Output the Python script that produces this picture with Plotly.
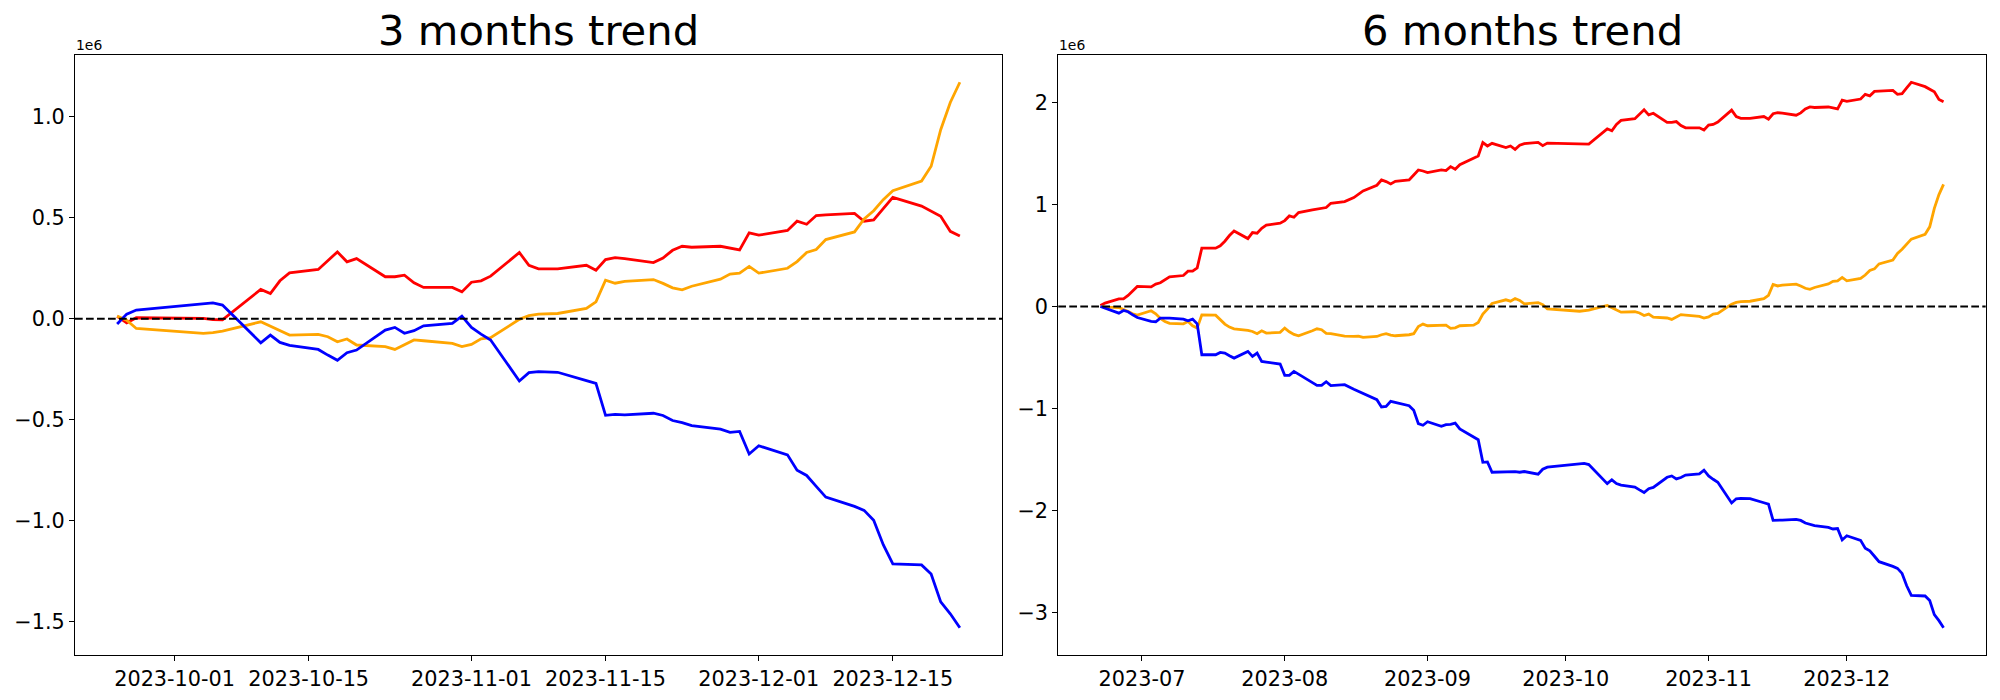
import plotly.graph_objects as go

# ---------------- data (values in millions) ----------------
dates_3m = ["2023-09-25","2023-09-26","2023-09-27","2023-10-04","2023-10-05","2023-10-06",
            "2023-10-10","2023-10-11","2023-10-12","2023-10-13","2023-10-16","2023-10-17",
            "2023-10-18","2023-10-19","2023-10-20","2023-10-23","2023-10-24","2023-10-25",
            "2023-10-26","2023-10-27","2023-10-30","2023-10-31","2023-11-01","2023-11-02",
            "2023-11-03","2023-11-06","2023-11-07","2023-11-08","2023-11-09","2023-11-10",
            "2023-11-13","2023-11-14","2023-11-15","2023-11-16","2023-11-17","2023-11-20",
            "2023-11-21","2023-11-22","2023-11-23","2023-11-24","2023-11-27","2023-11-28",
            "2023-11-29","2023-11-30","2023-12-01","2023-12-04","2023-12-05","2023-12-06",
            "2023-12-07","2023-12-08","2023-12-11","2023-12-12","2023-12-13","2023-12-14",
            "2023-12-15","2023-12-18","2023-12-19","2023-12-20","2023-12-21","2023-12-22"]

red_3m = [0.012, -0.020, 0.005, 0.002, -0.004, -0.005, 0.145, 0.125, 0.188, 0.227,
          0.244, 0.287, 0.331, 0.282, 0.298, 0.208, 0.208, 0.216, 0.178, 0.155,
          0.155, 0.133, 0.181, 0.188, 0.211, 0.328, 0.264, 0.247, 0.247, 0.247,
          0.265, 0.240, 0.293, 0.303, 0.298, 0.278, 0.301, 0.339, 0.359, 0.354,
          0.359, 0.349, 0.341, 0.425, 0.414, 0.437, 0.483, 0.468, 0.511, 0.514,
          0.522, 0.483, 0.489, 0.545, 0.601, 0.558, 0.534, 0.507, 0.433, 0.410]

orange_3m = [0.013, -0.007, -0.048, -0.072, -0.069, -0.061, -0.015, -0.038, -0.059, -0.081,
             -0.077, -0.089, -0.114, -0.100, -0.130, -0.138, -0.152, -0.128, -0.105, -0.109,
             -0.122, -0.138, -0.127, -0.099, -0.094, -0.003, 0.015, 0.023, 0.026, 0.026,
             0.051, 0.084, 0.191, 0.176, 0.185, 0.194, 0.175, 0.153, 0.143, 0.161,
             0.196, 0.221, 0.226, 0.259, 0.226, 0.250, 0.283, 0.328, 0.343, 0.392,
             0.430, 0.494, 0.535, 0.590, 0.634, 0.682, 0.755, 0.936, 1.071, 1.171]

blue_3m = [-0.026, 0.023, 0.043, 0.074, 0.079, 0.068, -0.119, -0.081, -0.117, -0.132,
           -0.152, -0.180, -0.206, -0.168, -0.155, -0.056, -0.043, -0.072, -0.059, -0.035,
           -0.023, 0.013, -0.043, -0.076, -0.105, -0.308, -0.267, -0.262, -0.263, -0.265,
           -0.306, -0.320, -0.478, -0.474, -0.476, -0.468, -0.479, -0.504, -0.514, -0.529,
           -0.547, -0.563, -0.558, -0.670, -0.629, -0.674, -0.750, -0.776, -0.830, -0.883,
           -0.929, -0.949, -0.998, -1.119, -1.214, -1.219, -1.264, -1.402, -1.461, -1.530]

dates_6m_head = ["2023-06-22","2023-06-23","2023-06-26","2023-06-27","2023-06-28","2023-06-29","2023-06-30",
                 "2023-07-03","2023-07-04","2023-07-05","2023-07-06","2023-07-07",
                 "2023-07-10","2023-07-11","2023-07-12","2023-07-13","2023-07-14",
                 "2023-07-17","2023-07-18","2023-07-19","2023-07-20","2023-07-21",
                 "2023-07-24","2023-07-25","2023-07-26","2023-07-27","2023-07-28",
                 "2023-07-31","2023-08-01","2023-08-02","2023-08-03","2023-08-04",
                 "2023-08-07","2023-08-08","2023-08-09","2023-08-10","2023-08-11",
                 "2023-08-14","2023-08-16","2023-08-17","2023-08-18",
                 "2023-08-21","2023-08-22","2023-08-23","2023-08-24","2023-08-25",
                 "2023-08-28","2023-08-29","2023-08-30","2023-08-31","2023-09-01",
                 "2023-09-04","2023-09-05","2023-09-06","2023-09-07","2023-09-08",
                 "2023-09-11","2023-09-12","2023-09-13","2023-09-14","2023-09-15",
                 "2023-09-18","2023-09-19","2023-09-20","2023-09-21","2023-09-22"]
dates_6m = dates_6m_head + dates_3m

red_6m = [0.010, 0.033, 0.075, 0.075, 0.108, 0.157, 0.196,
          0.192, 0.219, 0.232, 0.261, 0.290,
          0.303, 0.346, 0.346, 0.378, 0.571,
          0.571, 0.594, 0.639, 0.695, 0.740,
          0.665, 0.724, 0.718, 0.766, 0.796,
          0.815, 0.841, 0.887, 0.874, 0.920,
          0.946, 0.956, 0.965, 0.969, 1.011,
          1.027, 1.067, 1.102, 1.132,
          1.187, 1.239, 1.223, 1.200, 1.226,
          1.239, 1.288, 1.337, 1.327, 1.311,
          1.337, 1.331, 1.370, 1.344, 1.389,
          1.451, 1.474, 1.605, 1.572, 1.598,
          1.556, 1.572, 1.539, 1.579, 1.595,
          1.607, 1.575, 1.600, 1.597, 1.591, 1.590, 1.740, 1.720, 1.783, 1.822,
          1.839, 1.882, 1.926, 1.877, 1.893, 1.803, 1.803, 1.811, 1.773, 1.750,
          1.750, 1.728, 1.776, 1.783, 1.806, 1.923, 1.859, 1.842, 1.842, 1.842,
          1.860, 1.835, 1.888, 1.898, 1.893, 1.873, 1.896, 1.934, 1.954, 1.949,
          1.954, 1.944, 1.936, 2.020, 2.009, 2.032, 2.078, 2.063, 2.106, 2.109,
          2.117, 2.078, 2.084, 2.140, 2.196, 2.153, 2.129, 2.102, 2.028, 2.005]

orange_6m = [0.000, -0.007, -0.010, -0.026, -0.049, -0.072, -0.085,
             -0.042, -0.072, -0.117, -0.147, -0.166,
             -0.170, -0.147, -0.189, -0.212, -0.082,
             -0.085, -0.130, -0.173, -0.202, -0.219,
             -0.235, -0.245, -0.267, -0.238, -0.261,
             -0.254, -0.212, -0.248, -0.274, -0.287,
             -0.238, -0.219, -0.228, -0.264, -0.267,
             -0.290, -0.294, -0.290, -0.303,
             -0.294, -0.277, -0.267, -0.280, -0.287,
             -0.277, -0.267, -0.196, -0.173, -0.189,
             -0.179, -0.183, -0.215, -0.209, -0.189,
             -0.183, -0.157, -0.075, -0.026, 0.029,
             0.065, 0.052, 0.078, 0.059, 0.026,
             0.038, 0.018, -0.023, -0.047, -0.044, -0.036, 0.010, -0.013, -0.034, -0.056,
             -0.052, -0.064, -0.089, -0.075, -0.105, -0.113, -0.127, -0.103, -0.080, -0.084,
             -0.097, -0.113, -0.102, -0.074, -0.069, 0.022, 0.040, 0.048, 0.051, 0.051,
             0.076, 0.109, 0.216, 0.201, 0.210, 0.219, 0.200, 0.178, 0.168, 0.186,
             0.221, 0.246, 0.251, 0.284, 0.251, 0.275, 0.308, 0.353, 0.368, 0.417,
             0.455, 0.519, 0.560, 0.615, 0.659, 0.707, 0.780, 0.961, 1.096, 1.196]

blue_6m = [0.000, -0.016, -0.065, -0.039, -0.052, -0.082, -0.108,
           -0.147, -0.150, -0.114, -0.111, -0.114,
           -0.124, -0.140, -0.124, -0.170, -0.473,
           -0.473, -0.450, -0.457, -0.483, -0.506,
           -0.440, -0.489, -0.457, -0.538, -0.545,
           -0.564, -0.675, -0.675, -0.636, -0.662,
           -0.745, -0.773, -0.773, -0.737, -0.776,
           -0.766, -0.812, -0.832, -0.848,
           -0.913, -0.985, -0.979, -0.930, -0.939,
           -0.972, -1.018, -1.148, -1.164, -1.129,
           -1.174, -1.158, -1.155, -1.142, -1.200,
           -1.279, -1.305, -1.527, -1.523, -1.624,
           -1.618, -1.618, -1.618, -1.624, -1.617,
           -1.643, -1.594, -1.574, -1.543, -1.538, -1.549, -1.736, -1.698, -1.734, -1.749,
           -1.769, -1.797, -1.823, -1.785, -1.772, -1.673, -1.660, -1.689, -1.676, -1.652,
           -1.640, -1.604, -1.660, -1.693, -1.722, -1.925, -1.884, -1.879, -1.880, -1.882,
           -1.923, -1.937, -2.095, -2.091, -2.093, -2.085, -2.096, -2.121, -2.131, -2.146,
           -2.164, -2.180, -2.175, -2.287, -2.246, -2.291, -2.367, -2.393, -2.447, -2.500,
           -2.546, -2.566, -2.615, -2.736, -2.831, -2.836, -2.881, -3.019, -3.078, -3.147]

titles = ["3 months trend", "6 months trend"]
ticks_3m = ["2023-10-01", "2023-10-15", "2023-11-01", "2023-11-15", "2023-12-01", "2023-12-15"]
ticks_6m = ["2023-07-01", "2023-08-01", "2023-09-01", "2023-10-01", "2023-11-01", "2023-12-01"]
ticklabels_6m = ["2023-07", "2023-08", "2023-09", "2023-10", "2023-11", "2023-12"]
yticks_3m = [-1.5, -1.0, -0.5, 0.0, 0.5, 1.0]
yticks_6m = [-3, -2, -1, 0, 1, 2]

# ---------------- figure ----------------
W, H = 2000, 700
FONT = "DejaVu Sans"
colors = ["#ff0000", "#ffa500", "#0000ff"]

fig = go.Figure()
panels = [
    ("x", "y", dates_3m, [red_3m, orange_3m, blue_3m]),
    ("x2", "y2", dates_6m, [red_6m, orange_6m, blue_6m]),
]
for xa, ya, d, series in panels:
    for s, c in zip(series, colors):
        fig.add_trace(go.Scatter(x=d, y=s, mode="lines", line=dict(color=c, width=2.8),
                                 xaxis=xa, yaxis=ya, showlegend=False, hoverinfo="skip"))

def yrange(series):
    lo = min(min(s) for s in series)
    hi = max(max(s) for s in series)
    pad = (hi - lo) * 0.05
    return [lo - pad, hi + pad]

x_dom1 = [75 / W, 1002 / W]
x_dom2 = [1058.3 / W, 1985.7 / W]
y_dom = [1 - 655 / H, 1 - 55 / H]

axis_common = dict(showgrid=False, zeroline=False, showline=True, mirror=True,
                   linecolor="black", linewidth=1.1, ticks="outside", ticklen=5,
                   tickwidth=1.1, tickcolor="black",
                   tickfont=dict(family=FONT, size=20.8, color="black"))

fig.update_layout(
    width=W, height=H, margin=dict(l=0, r=0, t=0, b=0),
    paper_bgcolor="white", plot_bgcolor="white",
    xaxis=dict(domain=x_dom1, anchor="y", type="date",
               range=["2023-09-20 14:24", "2023-12-26 09:36"],
               tickmode="array", tickvals=ticks_3m, ticktext=ticks_3m, **axis_common),
    yaxis=dict(domain=y_dom, anchor="x", range=yrange([red_3m, orange_3m, blue_3m]),
               tickmode="array", tickvals=yticks_3m, tickformat=".1f", **axis_common),
    xaxis2=dict(domain=x_dom2, anchor="y2", type="date",
                range=["2023-06-12 20:24", "2023-12-31 03:36"],
                tickmode="array", tickvals=ticks_6m, ticktext=ticklabels_6m, **axis_common),
    yaxis2=dict(domain=y_dom, anchor="x2", range=yrange([red_6m, orange_6m, blue_6m]),
                tickmode="array", tickvals=yticks_6m, tickformat="d", **axis_common),
)

for xref in ["x domain", "x2 domain"]:
    yref = "y" if xref == "x domain" else "y2"
    fig.add_shape(type="line", xref=xref, yref=yref, x0=0, x1=1, y0=0, y1=0,
                  line=dict(color="black", width=2.1, dash="7.7px,3.3px"), layer="above")

for dom, t in zip([x_dom1, x_dom2], titles):
    fig.add_annotation(text=t, xref="paper", yref="paper", x=(dom[0] + dom[1]) / 2,
                       y=1 - 31 / H, xanchor="center", yanchor="middle", showarrow=False,
                       font=dict(family=FONT, size=41.7, color="black"))
    fig.add_annotation(text="1e6", xref="paper", yref="paper", x=dom[0] - 1 / W, y=y_dom[1],
                       xanchor="left", yanchor="bottom", showarrow=False,
                       font=dict(family=FONT, size=13.9, color="black"))

fig.write_html("out.html", config={"displayModeBar": False},
               post_script="document.body.style.margin='0';document.body.style.overflow='hidden';")
